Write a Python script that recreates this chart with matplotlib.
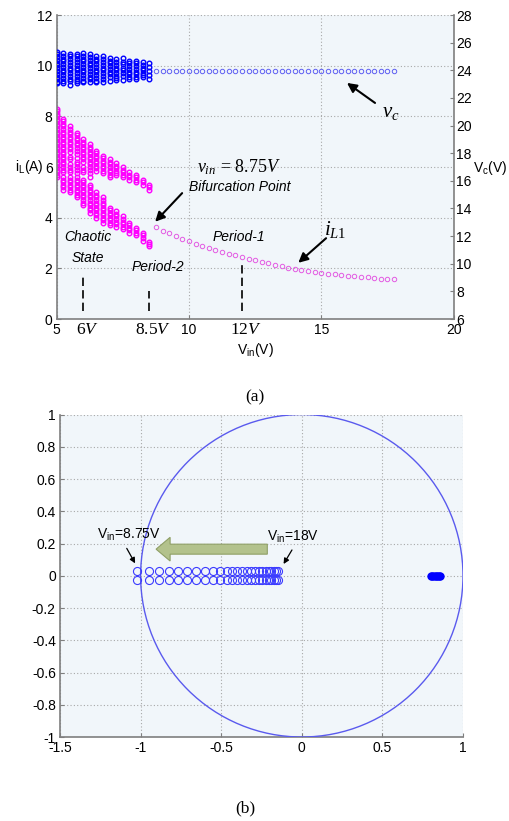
import matplotlib
matplotlib.use("Agg")
import matplotlib.pyplot as plt
from matplotlib.patches import Circle, FancyArrow

plt.rcParams['font.family'] = ['Liberation Sans', 'DejaVu Sans']
plt.rcParams['mathtext.fontset'] = 'custom'
plt.rcParams['mathtext.rm'] = 'Liberation Serif'
plt.rcParams['mathtext.it'] = 'Liberation Serif:italic'
plt.rcParams['mathtext.sf'] = 'Liberation Sans'

# ---- (a) bifurcation diagram data ----
vin_chaos = [5.0, 5.25, 5.5, 5.75, 6.0, 6.25, 6.5, 6.75, 7.0, 7.25, 7.5, 7.75, 8.0, 8.25, 8.5]

# inductor current i_L (A), chaotic / period-2 region, one list per Vin
il_chaos = [
    [8.3, 8.2, 8.1, 8.0, 7.9, 7.8, 7.7, 7.6, 7.5, 7.4, 7.3, 7.2, 7.1, 7.0, 6.9, 6.8, 6.7, 6.6, 6.5, 6.4, 6.3, 6.2, 6.1, 6.0, 5.9, 5.8, 5.7, 5.6],
    [7.9, 7.8, 7.7, 7.6, 7.5, 7.4, 7.3, 7.2, 7.1, 7.0, 6.9, 6.8, 6.7, 6.6, 6.5, 6.4, 6.3, 6.2, 6.1, 6.0, 5.9, 5.8, 5.6, 5.5, 5.4, 5.3, 5.2, 5.1],
    [7.6, 7.5, 7.4, 7.3, 7.2, 7.1, 7.0, 6.9, 6.8, 6.7, 6.6, 6.4, 6.3, 6.1, 6.0, 5.9, 5.8, 5.6, 5.5, 5.4, 5.3, 5.2, 5.1, 5.0],
    [7.35, 7.25, 7.15, 7.05, 6.95, 6.85, 6.75, 6.65, 6.5, 6.35, 6.2, 6.1, 6.0, 5.9, 5.75, 5.6, 5.5, 5.4, 5.3, 5.2, 5.1, 5.0, 4.9, 4.8],
    [7.1, 7.0, 6.9, 6.8, 6.7, 6.6, 6.5, 6.4, 6.3, 6.2, 6.0, 5.9, 5.8, 5.5, 5.4, 5.3, 5.2, 5.1, 5.0, 4.9, 4.8, 4.7, 4.6, 4.5],
    [6.9, 6.8, 6.7, 6.6, 6.5, 6.4, 6.3, 6.2, 6.1, 6.0, 5.9, 5.75, 5.6, 5.3, 5.2, 5.1, 5.0, 4.9, 4.8, 4.7, 4.6, 4.5, 4.4, 4.3, 4.2],
    [6.65, 6.55, 6.45, 6.35, 6.25, 6.15, 6.05, 5.95, 5.85, 5.0, 4.9, 4.8, 4.7, 4.6, 4.5, 4.4, 4.3, 4.2, 4.1, 4.0],
    [6.45, 6.35, 6.25, 6.15, 6.05, 5.95, 5.85, 5.75, 4.8, 4.7, 4.6, 4.5, 4.4, 4.3, 4.2, 4.1, 4.0, 3.9, 3.8],
    [6.3, 6.2, 6.1, 6.0, 5.9, 5.8, 5.7, 5.6, 4.4, 4.3, 4.2, 4.1, 4.0, 3.9, 3.8, 3.7],
    [6.15, 6.05, 5.95, 5.85, 5.75, 5.68, 4.25, 4.15, 4.05, 3.95, 3.85, 3.75, 3.65],
    [6.0, 5.9, 5.8, 5.7, 5.6, 4.05, 3.95, 3.85, 3.75, 3.65, 3.55],
    [5.8, 5.7, 5.6, 5.5, 3.8, 3.7, 3.6, 3.5, 3.4],
    [5.7, 5.6, 5.5, 5.4, 3.6, 3.5, 3.4, 3.3],
    [5.5, 5.4, 5.3, 3.4, 3.3, 3.2, 3.1],
    [5.3, 5.2, 5.1, 3.05, 2.95, 2.88],
]

# capacitor voltage v_c (V), chaotic / period-2 region
vc_chaos = [
    [25.35, 25.15, 24.95, 24.75, 24.55, 24.35, 24.15, 23.95, 23.75, 23.55, 23.35, 23.15, 23.05],
    [25.25, 25.05, 24.85, 24.65, 24.45, 24.25, 24.05, 23.85, 23.65, 23.45, 23.25, 23.05],
    [25.2, 25.0, 24.8, 24.6, 24.4, 24.2, 24.0, 23.8, 23.6, 23.4, 23.2, 22.95],
    [25.2, 25.0, 24.8, 24.6, 24.4, 24.2, 24.0, 23.8, 23.6, 23.4, 23.2, 23.05],
    [25.25, 25.05, 24.85, 24.65, 24.45, 24.25, 24.05, 23.85, 23.65, 23.45, 23.25, 23.15],
    [25.15, 24.95, 24.75, 24.55, 24.35, 24.15, 23.95, 23.75, 23.55, 23.35, 23.15],
    [25.05, 24.85, 24.65, 24.45, 24.25, 24.05, 23.85, 23.65, 23.45, 23.25, 23.15],
    [25.0, 24.8, 24.6, 24.4, 24.2, 24.0, 23.8, 23.6, 23.4, 23.15],
    [24.9, 24.7, 24.5, 24.3, 24.1, 23.9, 23.7, 23.5, 23.25],
    [24.8, 24.6, 24.4, 24.2, 24.0, 23.8, 23.6, 23.45, 23.3],
    [24.9, 24.6, 24.45, 24.2, 24.05, 23.8, 23.6, 23.3],
    [24.7, 24.5, 24.3, 24.1, 23.9, 23.7, 23.55, 23.4],
    [24.7, 24.5, 24.3, 24.1, 23.9, 23.7, 23.5, 23.4],
    [24.6, 24.4, 24.2, 24.0, 23.8, 23.65, 23.5],
    [24.5, 24.25, 23.95, 23.65, 23.4],
]

vin_p1 = [8.75, 9.0, 9.25, 9.5, 9.75, 10.0, 10.25, 10.5, 10.75, 11.0, 11.25, 11.5, 11.75,
          12.0, 12.25, 12.5, 12.75, 13.0, 13.25, 13.5, 13.75, 14.0, 14.25, 14.5, 14.75,
          15.0, 15.25, 15.5, 15.75, 16.0, 16.25, 16.5, 16.75, 17.0, 17.25, 17.5, 17.75]
il_p1 = [3.62, 3.49, 3.38, 3.26, 3.16, 3.07, 2.97, 2.88, 2.79, 2.72, 2.65, 2.58, 2.52,
         2.45, 2.38, 2.32, 2.26, 2.2, 2.14, 2.08, 2.03, 1.98, 1.94, 1.9, 1.86,
         1.82, 1.79, 1.76, 1.73, 1.7, 1.68, 1.66, 1.64, 1.62, 1.6, 1.58, 1.57]
vc_p1 = [23.95, 23.95, 23.95, 23.95, 23.95, 23.95, 23.95, 23.95, 23.95, 23.95, 23.95, 23.95, 23.95,
         23.95, 23.95, 23.95, 23.95, 23.95, 23.95, 23.95, 23.95, 23.95, 23.95, 23.95, 23.95,
         23.95, 23.95, 23.95, 23.95, 23.95, 23.95, 23.95, 23.95, 23.95, 23.95, 23.95, 23.95]

mark_vin = [6, 8.5, 12]
mark_labels = ['$6V$', '$8.5V$', '$12V$']
mark_top = [1.75, 1.1, 2.12]

# ---- (b) pole locus data ----
pole_re = [-1.02, -0.95, -0.885, -0.825, -0.765, -0.71, -0.655, -0.60, -0.55, -0.505,
           -0.465, -0.43, -0.40, -0.37, -0.34, -0.315, -0.29, -0.265, -0.245, -0.225,
           -0.205, -0.19, -0.175, -0.16, -0.15]
pole_im = 0.029
real_pole_re = [0.80, 0.81, 0.82, 0.83, 0.84, 0.85, 0.86]

BG = '#f1f6fa'
SPINE = '#7f7f7f'
GRID = dict(color='#a8a8a8', linestyle=(0, (1, 2)), linewidth=0.8)

fig = plt.figure(figsize=(5.09, 8.21), dpi=100)

# ===================== (a) =====================
ax = fig.add_axes([0.1114, 0.6114, 0.7798, 0.3703])
ax.set_facecolor(BG)
ax.set_xlim(5, 20)
ax.set_ylim(0, 12)
ax.set_xticks([5, 10, 15, 20])
ax.set_yticks([0, 2, 4, 6, 8, 10, 12])
ax.grid(True, **GRID)
ax.tick_params(direction='in', length=3, labelsize=10, pad=3, color=SPINE)
for s in ['top', 'right']:
    ax.spines[s].set_visible(False)
for s in ['left', 'bottom']:
    ax.spines[s].set_color(SPINE)
    ax.spines[s].set_linewidth(1.2)

ax2 = ax.twinx()
ax2.set_ylim(6, 28)
ax2.set_yticks(list(range(6, 29, 2)))
ax2.tick_params(direction='in', length=3, labelsize=10, pad=2, color=SPINE)
for s in ['top', 'left', 'bottom']:
    ax2.spines[s].set_visible(False)
ax2.spines['right'].set_color(SPINE)
ax2.spines['right'].set_linewidth(1.2)

for x, vals in zip(vin_chaos, il_chaos):
    ax.plot([x] * len(vals), vals, 'o', ms=3.3, mfc='none', mec='#ff00ff', mew=1.0)
ax.plot(vin_p1, il_p1, 'o', ms=3.2, mfc='none', mec='#e35be3', mew=0.7)
for x, vals in zip(vin_chaos, vc_chaos):
    ax2.plot([x] * len(vals), vals, 'o', ms=3.3, mfc='none', mec='#0000ff', mew=1.0)
ax2.plot(vin_p1, vc_p1, 'o', ms=3.2, mfc='none', mec='#5f5ff2', mew=0.7)

ax.vlines(mark_vin, 0.3, mark_top, colors='black', linestyles=(0, (5, 2.5)), linewidth=1.2)
for x, lab in zip(mark_vin, mark_labels):
    ax.text(x + 0.15, -0.42, lab, ha='center', va='center', fontsize=12.5)

ax.set_xlabel(r'$\mathsf{V_{in}}$(V)', fontsize=10, labelpad=3)
ax.text(-0.068, 0.5, r'$\mathsf{i_{L}}$(A)', transform=ax.transAxes, ha='center', va='center', fontsize=10)
ax.text(1.092, 0.497, r'$\mathsf{V_{c}}$(V)', transform=ax.transAxes, ha='center', va='center', fontsize=10)

arrow = dict(arrowstyle='-|>', color='black', lw=1.5, mutation_scale=14, shrinkA=0, shrinkB=0)
ax.annotate('', xy=(15.97, 9.32), xytext=(17.03, 8.53), arrowprops=arrow)
ax.text(17.3, 8.15, '$v_c$', fontsize=15, ha='left', va='center')
ax.annotate('', xy=(8.72, 3.84), xytext=(9.74, 4.97), arrowprops=arrow)
ax.text(10.3, 6.0, r'$v_{in}\,=\,8.75V$', fontsize=13, ha='left', va='center')
ax.text(10.0, 5.21, 'Bifurcation Point', fontsize=10, style='italic', ha='left', va='center')
ax.annotate('', xy=(14.13, 2.22), xytext=(15.18, 3.19), arrowprops=arrow)
ax.text(15.1, 3.55, '$i_{L1}$', fontsize=15, ha='left', va='center')
ax.text(6.18, 3.24, 'Chaotic', fontsize=10, style='italic', ha='center', va='center')
ax.text(6.18, 2.41, 'State', fontsize=10, style='italic', ha='center', va='center')
ax.text(8.83, 2.05, 'Period-2', fontsize=10, style='italic', ha='center', va='center')
ax.text(11.89, 3.25, 'Period-1', fontsize=10, style='italic', ha='center', va='center')

fig.text(0.501, 0.5164, '(a)', ha='center', va='center', fontsize=12.5, family='Liberation Serif')

# ===================== (b) =====================
axb = fig.add_axes([0.1179, 0.1023, 0.7917, 0.3928])
axb.set_facecolor(BG)
axb.set_xlim(-1.5, 1)
axb.set_ylim(-1, 1)
axb.set_xticks([-1.5, -1, -0.5, 0, 0.5, 1])
axb.set_xticklabels(['-1.5', '-1', '-0.5', '0', '0.5', '1'])
yt = [-1, -0.8, -0.6, -0.4, -0.2, 0, 0.2, 0.4, 0.6, 0.8, 1]
axb.set_yticks(yt)
axb.set_yticklabels(['-1', '-0.8', '-0.6', '-0.4', '-0.2', '0', '0.2', '0.4', '0.6', '0.8', '1'])
axb.grid(True, **GRID)
axb.tick_params(direction='in', length=3, labelsize=10, pad=3, color=SPINE)
for s in ['top', 'right']:
    axb.spines[s].set_visible(False)
for s in ['left', 'bottom']:
    axb.spines[s].set_color(SPINE)
    axb.spines[s].set_linewidth(1.2)

axb.add_patch(Circle((0, 0), 1, fill=False, edgecolor='#5a5aee', lw=1.0, zorder=3))
axb.plot(pole_re, [pole_im] * len(pole_re), 'o', ms=5.8, mfc='none', mec='#3b3bff', mew=0.8, zorder=4)
axb.plot(pole_re, [-pole_im] * len(pole_re), 'o', ms=5.8, mfc='none', mec='#3b3bff', mew=0.8, zorder=4)
axb.plot(real_pole_re, [0] * len(real_pole_re), 'o', ms=5, color='#0000ff', zorder=4)

axb.add_patch(FancyArrow(-0.214, 0.165, -0.69, 0, width=0.062, head_width=0.147, head_length=0.087,
                         length_includes_head=True, facecolor='#b3c28c', edgecolor='#8f9f66', lw=0.8, zorder=5))

small = dict(arrowstyle='-|>', color='black', lw=0.9, mutation_scale=8, shrinkA=0, shrinkB=0)
axb.text(-1.27, 0.253, r'$\mathsf{V_{in}}$=8.75V', fontsize=10, ha='left', va='center')
axb.annotate('', xy=(-1.034, 0.077), xytext=(-1.086, 0.17), arrowprops=small)
axb.text(-0.216, 0.242, r'$\mathsf{V_{in}}$=18V', fontsize=10, ha='left', va='center')
axb.annotate('', xy=(-0.113, 0.073), xytext=(-0.061, 0.16), arrowprops=small)

fig.text(0.481, 0.0158, '(b)', ha='center', va='center', fontsize=12.5, family='Liberation Serif')

fig.savefig('out.png', dpi=100, facecolor='white')
